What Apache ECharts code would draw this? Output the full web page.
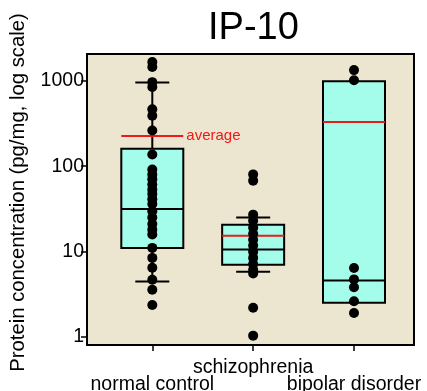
<!DOCTYPE html>
<html>
<head>
<meta charset="utf-8">
<script src="https://cdn.jsdelivr.net/npm/echarts@6/dist/echarts.min.js"></script>
<style>
  html, body { margin: 0; padding: 0; background: #fff; }
  #main { width: 427px; height: 391px; }
</style>
</head>
<body>
<div id="main"></div>
<script>
// groups on the x axis
const categories = ["normal control", "schizophrenia", "bipolar disorder"];

// individual samples (pg/mg)
const normalControl = [1660, 1450, 965, 845, 465, 390, 262, 137, 91, 79.5, 70, 61, 53, 47, 41, 36,
  29.5, 25, 21, 18, 15.8, 11, 8.4, 6.45, 4.65, 3.55, 2.36];
const schizophrenia = [80, 67.6, 27, 22.9, 19, 16.1, 13.7, 11.7, 9.9, 8.4, 7.1, 6.1, 5.5, 2.19, 1.03];
const bipolarDisorder = [1335, 1018, 6.4, 4.7, 3.8, 2.6, 1.9];

// box stats per group: [lower whisker, Q1, median, Q3, upper whisker]
const boxStats = [
  [4.44, 10.96, 31.5, 160, 957],
  [5.77, 7.0, 10.5, 20.6, 25],
  [2.51, 2.51, 4.56, 990, 990],
];
const averages = [225, 15.3, 330];

const yTicks = [1, 10, 100, 1000];
const xTicks = [1, 2, 3];
const xLowLabels = [1, 3]; // staggered: outer labels sit one line lower
const xHighLabels = [2];

const FONT = "Liberation Sans, Arial, sans-serif";

const chartDom = document.getElementById("main");
const myChart = echarts.init(chartDom);

// scatter points: [x position, value]
const groups = [normalControl, schizophrenia, bipolarDisorder];
const points = [];
groups.forEach((vals, i) => vals.forEach((v) => points.push([i + 1, v])));

const labelStyle = { fontSize: 19.5, color: "#000", fontFamily: FONT };

const option = {
  animation: false,
  title: {
    text: "IP-10",
    left: 208,
    top: 10,
    padding: 0,
    textStyle: { fontSize: 38, fontWeight: "normal", color: "#000", fontFamily: FONT },
  },
  grid: {
    left: 87,
    right: 13,
    top: 54,
    bottom: 46,
    outerBoundsMode: "none",
    show: true,
    backgroundColor: "#ece5cf",
    borderColor: "#000",
    borderWidth: 2,
  },
  xAxis: [
    {
      type: "value",
      min: 0.3525,
      max: 3.595,
      splitLine: { show: false },
      axisLine: { show: false },
      axisTick: {
        show: true,
        customValues: xTicks,
        length: 6,
        lineStyle: { color: "#000", width: 1.5 },
      },
      axisLabel: Object.assign({
        customValues: xLowLabels,
        margin: 30,
        hideOverlap: false,
        formatter: (v) => categories[Math.round(v) - 1],
      }, labelStyle),
    },
    {
      type: "value",
      position: "bottom",
      min: 0.3525,
      max: 3.595,
      splitLine: { show: false },
      axisLine: { show: false },
      axisTick: { show: false },
      axisLabel: Object.assign({
        customValues: xHighLabels,
        margin: 12.5,
        formatter: (v) => categories[Math.round(v) - 1],
      }, labelStyle),
    },
  ],
  yAxis: {
    type: "log",
    min: 0.8,
    max: 2063,
    name: "Protein concentration (pg/mg, log scale)",
    nameLocation: "middle",
    nameGap: 59,
    nameTextStyle: { fontSize: 20.3, color: "#000", fontFamily: FONT, padding: [0, 0, 0, 14] },
    splitLine: { show: false },
    axisLine: { show: true, lineStyle: { color: "#000", width: 2 } },
    axisTick: {
      show: true,
      customValues: yTicks,
      length: 6,
      lineStyle: { color: "#000", width: 1.5 },
    },
    axisLabel: Object.assign({
      customValues: yTicks,
      margin: 3,
      formatter: (v) => String(v),
    }, labelStyle),
  },
  series: [
    {
      type: "custom",
      z: 2,
      data: boxStats.map((s, i) => [i + 1].concat(s)),
      renderItem: (params, api) => {
        const x = api.value(0);
        const lo = api.coord([x, api.value(1)]);
        const q1 = api.coord([x, api.value(2)]);
        const med = api.coord([x, api.value(3)]);
        const q3 = api.coord([x, api.value(4)]);
        const hi = api.coord([x, api.value(5)]);
        const cx = q1[0];
        const half = 31, cap = 17;
        const line = { stroke: "#000", lineWidth: 2 };
        const children = [];
        if (hi[1] < q3[1] - 0.5) {
          children.push({ type: "line", shape: { x1: cx, y1: hi[1], x2: cx, y2: q3[1] }, style: line });
          children.push({ type: "line", shape: { x1: cx - cap, y1: hi[1], x2: cx + cap, y2: hi[1] }, style: line });
        }
        if (lo[1] > q1[1] + 0.5) {
          children.push({ type: "line", shape: { x1: cx, y1: q1[1], x2: cx, y2: lo[1] }, style: line });
          children.push({ type: "line", shape: { x1: cx - cap, y1: lo[1], x2: cx + cap, y2: lo[1] }, style: line });
        }
        children.push({
          type: "rect",
          shape: { x: cx - half, y: q3[1], width: half * 2, height: q1[1] - q3[1] },
          style: { fill: "#a4fcea", stroke: "#000", lineWidth: 2 },
        });
        children.push({ type: "line", shape: { x1: cx - half, y1: med[1], x2: cx + half, y2: med[1] }, style: line });
        return { type: "group", children };
      },
    },
    {
      type: "custom",
      z: 3,
      data: averages.map((a, i) => [i + 1, a]),
      renderItem: (params, api) => {
        const p = api.coord([api.value(0), api.value(1)]);
        const children = [
          { type: "line", shape: { x1: p[0] - 31, y1: p[1], x2: p[0] + 31, y2: p[1] }, style: { stroke: "#f01818", lineWidth: 2 } },
        ];
        if (params.dataIndex === 0) {
          children.push({
            type: "text",
            x: p[0] + 34,
            y: p[1],
            style: { text: "average", fill: "#f01818", fontSize: 15, fontFamily: FONT, verticalAlign: "middle" },
          });
        }
        return { type: "group", children };
      },
    },
    {
      type: "scatter",
      z: 4,
      symbolSize: 10,
      itemStyle: { color: "#000", opacity: 1 },
      data: points,
    },
  ],
};

myChart.setOption(option);
</script>
</body>
</html>
